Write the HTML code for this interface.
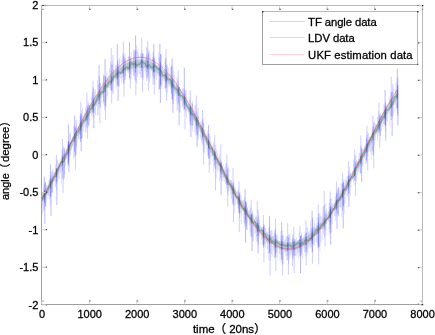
<!DOCTYPE html>
<html><head><meta charset="utf-8"><title>plot</title>
<style>html,body{margin:0;padding:0;background:#fff}svg{display:block}text{font-family:"Liberation Sans","Noto Sans CJK SC",sans-serif;font-size:11px;fill:#000;stroke:#000;stroke-width:.28px}.lg{font-size:11.3px}.al{font-size:11.5px}</style></head><body>
<svg width="435" height="335" viewBox="0 0 435 335">
<rect width="435" height="335" fill="#fff"/>
<path d="M41.8,192.7V192.7H42.2V192.3H43V186.5H43.8V183.9H44.6V181.3H45.4V183.1H46.2V185.5H46.9V201.8H46.2V206.3H45.4V204.4H44.6V209.9H43.8V210.9H43V214.4H42.2V206.1H41.8ZM47.5,185.1V185.1H48.3V180.5H49.1V178.7H49.9V175.1H50.7V171.8H51.5V175.8H52.4V168.9H53.2V172.8H53.4V184.1H53.2V192H52.4V192.4H51.5V196.3H50.7V205.4H49.9V199.3H49.1V196H48.3V199.4H47.5ZM54.2,171.9V171.9H55V164.5H55.8V167.9H56.6V160.3H57.4V159.4H58.2V163.3H59V162.8H59.6V179.3H59V177.7H58.2V181.8H57.4V181.1H56.6V190.4H55.8V186.5H55V182.2H54.2ZM60,161.8V161.8H60.8V155.5H61.6V149.4H62.4V148.6H63.2V145.9H64V150.1H64.8V150.5H65.6V148.2H65.8V165.9H65.6V167H64.8V174.8H64V180.4H63.2V178.8H62.4V178.4H61.6V183.9H60.8V172.8H60ZM66.1,148.9V148.9H67V144.2H67.8V141.1H68.6V140.7H69.4V133.8H70.2V132.2H71V138.8H71.7V150.3H71V155.2H70.2V156.5H69.4V160.3H68.6V156.9H67.8V163.9H67V159.2H66.1ZM72.4,135.8V135.8H73.2V126.5H74V124.9H74.8V128.2H75.7V126.9H76.5V125.2H77.3V127.5H77.6V142.6H77.3V147.5H76.5V146H75.7V156.4H74.8V157.5H74V158.5H73.2V146.5H72.4ZM78,125.9V125.9H78.8V121.9H79.6V115.5H80.5V118H81.3V110.2H82.1V107.5H82.9V114.8H83.7V115.9H83.7V128.5H83.7V131.7H82.9V138.1H82.1V138.3H81.3V141.5H80.5V134.9H79.6V139.1H78.8V139.5H78ZM84.3,112.6V112.6H85.1V107.1H85.9V109.2H86.7V105.3H87.5V101.6H88.3V102H89.1V105.3H89.9V104.8H90.1V116.3H89.9V120.5H89.1V127.5H88.3V124.9H87.5V122.6H86.7V131.9H85.9V133.2H85.1V127H84.3ZM90.2,102.8V102.8H91V97.3H91.8V92.6H92.6V95.5H93.4V88.4H94.2V91.4H95.1V89.3H95.9V96H96.2V105H95.9V114.9H95.1V113.1H94.2V118H93.4V114.2H92.6V118.4H91.8V116H91V113.1H90.2ZM96.2,94.9V94.9H97V80.2H97.8V84.1H98.6V75.9H99.4V77H100.2V83.2H101V86.1H101.6V103H101V107.9H100.2V106.6H99.4V108.3H98.6V115.1H97.8V115.5H97V106.1H96.2ZM102.4,82V82H103.2V74.1H104V75.3H104.9V77.5H105.7V76.5H106.5V71.7H107.3V77.3H108.1V96.1H107.3V98.6H106.5V107.8H105.7V102.8H104.9V110.3H104V104.6H103.2V97.3H102.4ZM108.4,74.7V74.7H109.2V68.6H110V61.8H110.8V70.9H111.7V61H112.5V64.8H113.3V69.5H114.1V68.6H114.1V82.9H114.1V82.2H113.3V91.3H112.5V89.9H111.7V91.1H110.8V89.8H110V88.4H109.2V88.1H108.4ZM115,65.6V65.6H115.8V64.6H116.6V66.1H117.4V61.5H118.2V64.1H119V57.5H119.8V59.5H120.3V78.6H119.8V86.9H119V86.4H118.2V85.2H117.4V85.9H116.6V88.8H115.8V81.9H115ZM120.5,64.7V64.7H121.3V58.7H122.1V53.6H122.9V54H123.7V58.3H124.5V52.9H125.3V59.9H126.1V79.8H125.3V80.3H124.5V84.4H123.7V77.3H122.9V78.1H122.1V82.7H121.3V78.7H120.5ZM126.8,60.6V60.6H127.6V56.6H128.4V55.8H129.2V57.1H130V56.2H130.8V52H131.6V58.6H132.2V71.4H131.6V79.7H130.8V74.2H130V80.6H129.2V72.6H128.4V73.5H127.6V71.6H126.8ZM132.8,56.3V56.3H133.6V49.3H134.4V52.3H135.2V50.5H136V45.1H136.9V51.4H137.7V48.5H138.5V54H138.8V69H138.5V74.8H137.7V77.1H136.9V83.4H136V81.7H135.2V80.1H134.4V77.3H133.6V72.8H132.8ZM139.3,56.6V56.6H140.1V54.5H140.9V53.1H141.7V50.2H142.5V53.2H143.3V54H144.1V56.8H144.5V71.7H144.1V80H143.3V77.3H142.5V77.3H141.7V78.8H140.9V77.4H140.1V73.7H139.3ZM145,57.2V57.2H145.8V54H146.6V55.8H147.4V51.7H148.2V49.8H149V50.9H149.8V54.3H150.6V61.6H150.7V70.3H150.6V78.3H149.8V82.6H149V74.7H148.2V76.6H147.4V71.7H146.6V77.3H145.8V71.6H145ZM151.3,60.2V60.2H152.1V57.6H152.9V57.8H153.7V55.7H154.5V58.5H155.3V62H156.1V64.4H156.7V79.8H156.1V75.8H155.3V84.4H154.5V78.4H153.7V77.9H152.9V76.3H152.1V70.6H151.3ZM157.5,65.7V65.7H158.3V52.2H159.2V57.2H160V54.3H160.8V54.1H161.6V64.6H162.4V65.1H162.8V84.1H162.4V87.2H161.6V86.5H160.8V84.4H160V89.5H159.2V90.4H158.3V76.4H157.5ZM163.7,69V69H164.5V58.8H165.3V62.2H166.1V68.9H166.9V64.6H167.7V66.7H168.5V74.8H168.7V85.4H168.5V86.6H167.7V93.6H166.9V84.7H166.1V92.1H165.3V88.8H164.5V81.6H163.7ZM169.4,72.4V72.4H170.2V66.9H171V66.8H171.8V75.1H172.6V67.7H173.4V71.2H174.2V75.3H174.8V96.1H174.2V103.9H173.4V103.4H172.6V99.9H171.8V93.2H171V89.7H170.2V86.9H169.4ZM175.8,82.2V82.2H176.6V76.9H177.4V79.6H178.2V81.2H179V86.9H179.8V87.2H180.6V89.3H181.2V101H180.6V113H179.8V112.2H179V102.1H178.2V109.6H177.4V111.2H176.6V100.4H175.8ZM181.9,88.4V88.4H182.7V88.2H183.5V88.5H184.3V90.1H185.1V90.8H185.9V89.5H186.7V96.4H187.2V110.6H186.7V117.7H185.9V112.6H185.1V109.7H184.3V110H183.5V107.2H182.7V107.3H181.9ZM188.1,103.9V103.9H188.9V97.4H189.7V100.1H190.5V104.9H191.3V102.5H192.1V100.5H192.9V108.7H193.6V125.2H192.9V131.4H192.1V125.7H191.3V120.4H190.5V126.5H189.7V121.6H188.9V112.5H188.1ZM193.7,111V111H194.5V105.5H195.3V104.5H196.1V111.4H196.9V114.3H197.7V115.9H198.5V116.7H199.2V132.3H198.5V136H197.7V134.5H196.9V134.7H196.1V135.6H195.3V132.5H194.5V121.2H193.7ZM200.2,121.2V121.2H201V122.2H201.8V119.4H202.6V118.6H203.4V122.1H204.2V129.3H205V132.1H205.3V142.9H205V153H204.2V152H203.4V146.1H202.6V143.9H201.8V142H201V139.1H200.2ZM205.7,135.8V135.8H206.5V133.3H207.3V130.4H208.1V133.9H208.9V133.9H209.7V135.9H210.6V141.2H211.4V157.4H210.6V164.7H209.7V158.5H208.9V155.7H208.1V156.3H207.3V151.8H206.5V145.5H205.7ZM211.8,145.6V145.6H212.6V144.2H213.4V142.7H214.2V149.6H215V145H215.8V148.5H216.6V151H217.4V153.5H217.9V172.5H217.4V169.5H216.6V178.4H215.8V168.7H215V168.5H214.2V172.7H213.4V161.6H212.6V156.8H211.8ZM218.4,156.9V156.9H219.2V153.2H220V159.4H220.8V161.1H221.6V162.6H222.4V164.7H223.2V164.4H223.5V178.2H223.2V181.4H222.4V177.6H221.6V179.9H220.8V178.1H220V181.3H219.2V170.6H218.4ZM224.3,167.2V167.2H225.2V164H226V162.6H226.8V167.4H227.6V165.3H228.4V167.8H229.2V175.7H229.4V191H229.2V190.8H228.4V194.4H227.6V192.2H226.8V187.9H226V184H225.2V181.7H224.3ZM230.2,180V180H231V180.3H231.9V182.1H232.7V183.4H233.5V181.5H234.3V186.7H235.1V188.8H235.7V204.9H235.1V213.5H234.3V205.8H233.5V201.5H232.7V204.7H231.9V199H231V194.5H230.2ZM236.6,191.7V191.7H237.4V190.7H238.2V189.8H239V191.8H239.8V192.3H240.7V195.8H241.5V201.1H242.1V216H241.5V224.2H240.7V213H239.8V218.3H239V209.6H238.2V208.1H237.4V204.3H236.6ZM242.6,199.5V199.5H243.4V200H244.2V197H245V201.4H245.8V200.7H246.6V206.5H247.5V208H248.1V222.5H247.5V230H246.6V225.8H245.8V219.5H245V227.5H244.2V222.1H243.4V211.8H242.6ZM248.9,210V210H249.7V205.3H250.5V208.1H251.4V213.4H252.2V210.7H253V214.4H253.8V218.5H254.4V236.1H253.8V241.2H253V241.6H252.2V237.5H251.4V232.6H250.5V235.6H249.7V225.7H248.9ZM254.9,216.6V216.6H255.7V215.5H256.5V216.8H257.3V220.1H258.1V215.8H258.9V218.9H259.7V221.7H259.9V234.4H259.7V236.5H258.9V235.5H258.1V236H257.3V236.8H256.5V241.4H255.7V233.1H254.9ZM261.1,227.3V227.3H261.9V227H262.7V227.5H263.5V223.5H264.3V224.7H265.1V227.9H266V230.7H266.6V242.9H266V247.7H265.1V244H264.3V245.8H263.5V245.1H262.7V244.4H261.9V239.9H261.1ZM266.9,232V232H267.7V231.6H268.5V227.8H269.3V226H270.1V230.7H270.9V230.3H271.7V230.3H272.5V236.4H272.6V250.2H272.5V256.7H271.7V254H270.9V260.4H270.1V251.6H269.3V260.5H268.5V253.6H267.7V249.6H266.9ZM272.9,235.6V235.6H273.7V231.1H274.5V228.7H275.3V228.6H276.1V236H276.9V233.9H277.7V237.7H278.2V250.5H277.7V257.4H276.9V252.4H276.1V253.9H275.3V251.2H274.5V258.4H273.7V249.6H272.9ZM278.9,241V241H279.7V235.7H280.5V230.9H281.4V239.1H282.2V230.2H283V235.5H283.8V241.1H284.6V239.9H284.7V253.8H284.6V252.8H283.8V264.2H283V264.8H282.2V262.9H281.4V254.9H280.5V261.5H279.7V253.7H278.9ZM284.8,239.6V239.6H285.6V236.8H286.4V235.5H287.3V236.3H288.1V233.9H288.9V234.7H289.7V232.9H290.5V242.4H290.9V257H290.5V254.8H289.7V258.6H288.9V263.9H288.1V259.9H287.3V260.7H286.4V256.2H285.6V252.6H284.8ZM291.1,242.2V242.2H291.9V234.3H292.7V234.7H293.5V238.1H294.3V238.8H295.1V239H296V237.3H296.7V256.5H296V255.9H295.1V256.2H294.3V259.7H293.5V256.4H292.7V258.8H291.9V254.6H291.1ZM297.1,240.1V240.1H297.9V240.1H298.7V232.7H299.5V238.2H300.3V235.6H301.1V232.1H301.9V237.6H302.8V239.7H303V248.7H302.8V258.6H301.9V252H301.1V256.3H300.3V252.7H299.5V252.7H298.7V258.2H297.9V253H297.1ZM303.3,236.3V236.3H304.1V234.4H304.9V233.5H305.8V232.7H306.6V227.8H307.4V226.8H308.2V231.8H309V232.9H309.2V245.1H309V247.6H308.2V253H307.4V254.4H306.6V248.9H305.8V256.6H304.9V252.3H304.1V248.6H303.3ZM309.3,230.6V230.6H310.1V221.6H310.9V228.2H311.7V227.4H312.5V219.6H313.3V226.6H314.1V223.3H314.9V227H315V240.6H314.9V245.4H314.1V245.5H313.3V244.2H312.5V252.1H311.7V247.4H310.9V246.3H310.1V247.5H309.3ZM315.6,224.8V224.8H316.4V217.6H317.2V222.7H318V213.8H318.8V213.5H319.6V212.6H320.4V216.2H321.3V217.3H321.3V236.2H321.3V242.4H320.4V251.4H319.6V247H318.8V248.3H318V245.5H317.2V242.7H316.4V242.1H315.6ZM321.6,215.2V215.2H322.4V206.3H323.2V205.6H324V205.3H324.8V203.2H325.6V211H326.4V207.8H327V223.7H326.4V235.7H325.6V230.3H324.8V237.6H324V234.2H323.2V239.9H322.4V230.1H321.6ZM327.9,211.5V211.5H328.7V203H329.5V207.3H330.3V204.8H331.1V199.1H331.9V203.1H332.7V204.6H332.9V215.1H332.7V224.1H331.9V232.8H331.1V225.2H330.3V229.1H329.5V234.9H328.7V221.7H327.9ZM333.9,203V203H334.8V196.6H335.6V194.2H336.4V190.7H337.2V188.9H338V187.8H338.8V189.3H339.6V207.1H338.8V215.1H338V213.8H337.2V214H336.4V216.5H335.6V221.2H334.8V215.7H333.9ZM339.8,190.8V190.8H340.6V183.5H341.4V183.1H342.2V183.9H343V181.9H343.8V184.7H344.6V179.4H345.5V181.9H345.6V198.7H345.5V203.8H344.6V213.9H343.8V205.2H343V204.3H342.2V217.1H341.4V206.9H340.6V208.6H339.8ZM345.8,179.7V179.7H346.6V176.6H347.5V175.9H348.3V171.8H349.1V166.8H349.9V172.4H350.7V173.3H351.3V187.7H350.7V196.3H349.9V193.3H349.1V189.8H348.3V195.9H347.5V197.3H346.6V191.7H345.8ZM352.2,171.1V171.1H353V160.2H353.8V160.5H354.6V155.8H355.4V155.1H356.2V160H357.1V161.1H357.8V175H357.1V181.6H356.2V177.6H355.4V179.7H354.6V185.1H353.8V181.5H353V179.2H352.2ZM358,158.7V158.7H358.8V153.1H359.6V153.1H360.4V145.4H361.2V146.8H362V148.6H362.9V149.1H363.5V165.6H362.9V165.2H362V166.9H361.2V173.6H360.4V173.1H359.6V169.4H358.8V172.2H358ZM364,146V146H364.9V144H365.7V139.4H366.5V135H367.3V131.4H368.1V133H368.9V137.1H369.7V137H370.1V148.3H369.7V151H368.9V152.1H368.1V156.6H367.3V161.1H366.5V160.3H365.7V164.6H364.9V158.1H364ZM370.1,136.6V136.6H370.9V133.8H371.7V128.6H372.5V126.6H373.3V121.8H374.1V121.2H374.9V123.5H375.7V123.5H376.2V136.2H375.7V140.5H374.9V145.5H374.1V154.8H373.3V150.8H372.5V151.5H371.7V159.3H370.9V152.2H370.1ZM376.2,124.5V124.5H377V117H377.8V111H378.6V116.3H379.4V115.4H380.2V113.5H381V114.8H381.8V114.8H382V124.5H381.8V130.9H381V135.9H380.2V130.4H379.4V132.3H378.6V136.3H377.8V141.6H377V133.8H376.2ZM382.4,113V113H383.3V104.3H384.1V106H384.9V102H385.7V105.3H386.5V104.2H387.3V104.6H387.8V121.9H387.3V121.6H386.5V120.2H385.7V131.6H384.9V123.5H384.1V124.3H383.3V127.3H382.4ZM388.7,98.5V98.5H389.5V96.6H390.3V92H391.1V92.4H392V84.6H392.8V83.5H393.6V88.4H394.1V113.4H393.6V115.9H392.8V117.6H392V116.2H391.1V116.1H390.3V126.6H389.5V113.7H388.7ZM394.8,89.1V89.1H395.6V82.9H396.4V79.4H397.2V87H398V79.7H398V85.3H398V80H398V111.8H398V104.8H398V111.4H398V113.4H397.2V107.7H396.4V111H395.6V105.6H394.8Z" fill="#0000ff" fill-opacity="0.15"/>
<path d="M45.5,182.2V206.9M52.1,171.3V193.1M56.4,154.8V183.6M62.5,138.8V171.1M63.1,153.4V192.9M64.4,147.7V178.4M68.3,141.8V166.1M75.4,127.3V169.5M76.2,120.2V155.1M80.8,101.7V138.9M80.7,113V141.9M86.9,92.5V127.6M87.6,106.5V138.7M88.8,104.5V125.5M93,80.7V111.7M93,87V112.9M99.9,82.9V123.1M105.5,76.1V120M103.6,76V102M111.2,48.1V90.4M111.7,64.5V103.6M113,55.1V94M117.9,59.5V85.8M123.4,41.5V83M124,56.4V96.5M125.2,58.1V76.5M130.4,59.1V88.5M135.9,50.5V95.6M134,50.3V75.7M141.7,37.8V71M142.5,53.6V92.2M147.7,41V78.7M148.5,53.3V90.6M146.7,47.3V81M154.3,58.6V94.5M153.1,52.2V84.7M160.8,54.2V84.9M166,49.4V87.7M166.6,65.3V100.7M165.8,57.4V88.2M171.7,65V93.6M178.2,70V104.5M185,93.4V129.5M190.3,90.1V124.5M192.3,103.6V125.7M196.4,95.3V129.4M198,107.8V139.4M202.5,110.2V139.8M203.4,123.1V164.8M209.2,141V172.9M214.7,135.2V165.1M215.5,151.6V190.3M220.8,144.4V173.9M226.9,154.6V184.8M227.8,169.6V206.6M233,167.9V204.1M233.5,183.4V222M239,181.2V212.6M239.3,193.1V232M239.3,194.4V213.8M246.5,202.5V229.5M251.2,199.7V236.9M257.3,201.5V241.8M258.3,209.7V245M263.4,215V247.8M263.9,226.6V262.3M263.8,225.5V244.8M270,234.3V275.4M275.6,218.3V256.6M275.9,234.2V271M275,233.1V258.1M282.4,235.1V275.5M287.7,222.8V255.5M288.4,237.5V274.6M293.8,227V255.3M294.2,240.5V273M292.6,238.7V265.9M299.9,226.2V256.5M301.4,234.7V255.3M306,220.4V251.7M306.3,232.4V265.4M312.4,228.6V263.6M312.3,217.7V252.2M318.2,204.7V247.6M318.7,222.7V264.4M318.6,217.4V246M324.2,190.8V229.5M325.1,213.4V246.4M330.3,191.5V222.8M330,198.7V232.8M336.4,181.4V210.6M338.3,187.1V216.2M342.5,173.1V210.8M343.7,179.4V206.9M348.6,161V193.5M354.7,149.2V180.4M355.5,162.4V195.9M360.8,135.6V173.9M366.9,125.9V152.9M367.7,140.2V170.4M366.5,137.5V163.1M372.9,115.5V154.9M373.7,125.9V168.3M379,102.1V132.6M379.8,117.7V148M380,113.7V135.3M385.3,103.2V125.3M391.2,76.6V120.1M397.9,77.1V115.9" fill="none" stroke="#0000ff" stroke-width="0.9" stroke-opacity="0.22"/>
<path d="M44.3,176.5V202.8M44.8,189.7V223.9M50.4,164.5V196.9M51,178.6V216M56.9,168.2V205M68.6,124.3V163.3M68.9,142V172M74.7,115.5V151.8M81.2,114.8V151.1M93.8,98.5V128.2M99.1,65.2V104M105.1,58.9V105.9M117.3,44.3V79.7M118.1,66.6V100.6M129.5,42V77.9M135.6,35.4V72.5M153.8,44.1V72.9M159.9,44.1V89M160.4,62.1V102.9M172.1,58.4V99.1M172.9,78.8V112.8M179.1,86.8V125.3M184.3,67.6V109.5M190.9,107V137.1M197.1,117.1V146.6M208.6,125V158.7M221.1,162.1V194.8M245.1,189.3V223.7M245.6,201.4V242.7M252,213.3V251M258.1,222.8V253.2M269.5,216.2V253.2M281.6,222.2V259.7M300.5,236V273.2M312.1,210.8V243.5M330.6,206.6V244.5M337,193.3V228.9M343.2,182.5V228.1M348.9,175.5V207M361.7,148.6V182.2M385.1,90V125.8M385.8,107.4V140.5M392.1,91.6V135.9M397.3,68.9V108.6M397.9,85V125.5" fill="none" stroke="#0000ff" stroke-width="0.9" stroke-opacity="0.3"/>
<path d="M41.8,195.5L42.3,193.7L42.8,193.8L43.2,193.4L43.7,192.2L44.2,191.4L44.7,189.7L45.1,189.8L45.6,188.7L46.1,187.9L46.6,187.1L47,186.8L47.5,186L48,184.3L48.5,184.3L48.9,183.2L49.4,181.2L49.9,181.3L50.4,180.8L50.8,178.8L51.3,178.1L51.8,178.4L52.3,177.4L52.7,175.3L53.2,174.1L53.7,172.8L54.2,171.9L54.6,172.6L55.1,170.8L55.6,170.2L56.1,168.9L56.5,169.1L57,167.9L57.5,167.2L58,166.4L58.4,165.1L58.9,164.3L59.4,163.4L59.9,161.8L60.3,161.5L60.8,159L61.3,159.6L61.8,157.3L62.2,157.1L62.7,156.3L63.2,155.4L63.7,154.3L64.1,154.1L64.6,153.9L65.1,153.2L65.6,152.4L66.1,151.3L66.5,148.6L67,148.3L67.5,146.8L68,146.2L68.4,146.1L68.9,144.5L69.4,144.8L69.9,143.7L70.3,143.2L70.8,142.2L71.3,141.2L71.8,140L72.2,137.8L72.7,136.8L73.2,136.7L73.7,136.3L74.1,133.8L74.6,133.1L75.1,132.5L75.6,131.9L76,131.1L76.5,129.7L77,129.5L77.5,128.3L77.9,128.4L78.4,126.7L78.9,126.9L79.4,126.4L79.8,124L80.3,124.4L80.8,122.4L81.3,121.5L81.7,120.2L82.2,118.9L82.7,119L83.2,118.3L83.6,116.4L84.1,115.6L84.6,114.4L85.1,113L85.5,114.4L86,114.2L86.5,113.4L87,112.6L87.4,110.7L87.9,110.8L88.4,110.3L88.9,108.6L89.3,106.2L89.8,105.6L90.3,105.5L90.8,104.3L91.3,104.2L91.7,102.7L92.2,102.9L92.7,101.2L93.2,99.9L93.6,99.9L94.1,98.6L94.6,97.9L95.1,97.6L95.5,98.1L96,97.4L96.5,96.1L97,94.6L97.4,94L97.9,93.8L98.4,92.9L98.9,92.1L99.3,91.6L99.8,89.8L100.3,89L100.8,89.9L101.2,88.7L101.7,87.4L102.2,86.7L102.7,86.6L103.1,86.8L103.6,86L104.1,84.9L104.6,85.7L105,84.1L105.5,83.9L106,83.8L106.5,80.6L106.9,79.7L107.4,79.5L107.9,79L108.4,80L108.8,78.2L109.3,78.8L109.8,78.3L110.3,77.5L110.7,76.8L111.2,76.4L111.7,75.8L112.2,74.4L112.6,74.1L113.1,73.2L113.6,72.8L114.1,71.7L114.6,71.5L115,71.1L115.5,70.2L116,71L116.5,69.9L116.9,69.9L117.4,69.4L117.9,70.3L118.4,68.9L118.8,69.3L119.3,68.2L119.8,67.1L120.3,67.9L120.7,66.8L121.2,66L121.7,67.1L122.2,65.8L122.6,66.1L123.1,66.3L123.6,65.1L124.1,63.9L124.5,64.5L125,63.5L125.5,64.1L126,62.6L126.4,62.4L126.9,62.9L127.4,63L127.9,62.2L128.3,62.3L128.8,62.2L129.3,62.1L129.8,61.8L130.2,60.5L130.7,60.2L131.2,61.6L131.7,60.1L132.1,61.5L132.6,60.5L133.1,60.3L133.6,60.8L134,60.2L134.5,60.3L135,60.8L135.5,60.3L135.9,60.4L136.4,61L136.9,59.2L137.4,60.1L137.9,59.4L138.3,58.8L138.8,60.1L139.3,59.8L139.8,60.6L140.2,60.1L140.7,60.1L141.2,58.9L141.7,60.2L142.1,59L142.6,61.1L143.1,60L143.6,60.3L144,59.9L144.5,60.3L145,59.4L145.5,60.2L145.9,60L146.4,60.2L146.9,59.7L147.4,59.7L147.8,60.5L148.3,61.1L148.8,60.5L149.3,60.2L149.7,61.4L150.2,60.9L150.7,62.3L151.2,61.5L151.6,61.3L152.1,62.4L152.6,63L153.1,63.9L153.5,63.9L154,62.4L154.5,63L155,63.9L155.4,63.3L155.9,64.5L156.4,65.1L156.9,65.1L157.3,65.1L157.8,65.8L158.3,66.3L158.8,67.1L159.2,66L159.7,66.9L160.2,68.2L160.7,67.6L161.2,68.7L161.6,69.2L162.1,70.1L162.6,70.4L163.1,70.1L163.5,70.5L164,70.3L164.5,71.6L165,72L165.4,72.6L165.9,73.4L166.4,74L166.9,74.6L167.3,73.3L167.8,73.5L168.3,74.9L168.8,75.2L169.2,76.9L169.7,77.6L170.2,78L170.7,77.8L171.1,79.2L171.6,79.9L172.1,79.9L172.6,80.7L173,80.3L173.5,81.4L174,81.4L174.5,83.3L174.9,83.9L175.4,84.9L175.9,85.4L176.4,86.2L176.8,84.8L177.3,85.9L177.8,85.9L178.3,86.9L178.7,87.9L179.2,87.8L179.7,88.4L180.2,89.5L180.6,90.2L181.1,90.7L181.6,91.6L182.1,92.3L182.5,93.3L183,95.3L183.5,95.3L184,96.1L184.4,96.4L184.9,97L185.4,96.8L185.9,98.5L186.4,100.3L186.8,100.5L187.3,101.3L187.8,103.1L188.3,103.8L188.7,104.1L189.2,105.3L189.7,105.5L190.2,105.9L190.6,106.9L191.1,108L191.6,108.9L192.1,108.9L192.5,111L193,111.8L193.5,111.2L194,112.5L194.4,112.7L194.9,113.1L195.4,114.5L195.9,115.7L196.3,117.4L196.8,118.1L197.3,118.6L197.8,120.1L198.2,120.4L198.7,120.4L199.2,122.3L199.7,122.9L200.1,123.7L200.6,125.3L201.1,125L201.6,125.4L202,127.3L202.5,128.1L203,129.5L203.5,130.5L203.9,130L204.4,132L204.9,132.4L205.4,133.9L205.8,135.3L206.3,135.6L206.8,136.5L207.3,136.6L207.7,138L208.2,138.8L208.7,139.2L209.2,142.2L209.7,142.4L210.1,143.1L210.6,144.4L211.1,144L211.6,145.1L212,146.9L212.5,147.2L213,147.2L213.5,149.1L213.9,149.7L214.4,150.1L214.9,152.4L215.4,153.1L215.8,154.7L216.3,155.8L216.8,155.6L217.3,157.3L217.7,157.7L218.2,158.2L218.7,159.3L219.2,159.3L219.6,160.7L220.1,161L220.6,164.1L221.1,164.4L221.5,164.6L222,166.4L222.5,167.1L223,167.9L223.4,168.8L223.9,170.2L224.4,169.4L224.9,170.7L225.3,171.1L225.8,172.3L226.3,173.9L226.8,175L227.2,175.7L227.7,176.4L228.2,178.4L228.7,178.1L229.1,178.8L229.6,180.1L230.1,180.5L230.6,180.7L231,181.6L231.5,182L232,184.3L232.5,185.7L233,186.8L233.4,187.5L233.9,187.5L234.4,188L234.9,188.3L235.3,189.3L235.8,190.5L236.3,190.6L236.8,192.2L237.2,192.5L237.7,195.2L238.2,195.4L238.7,197.4L239.1,197.9L239.6,197.8L240.1,199.4L240.6,199.2L241,200.7L241.5,199.4L242,201L242.5,200.9L242.9,202.9L243.4,203.6L243.9,204.3L244.4,205.7L244.8,206.2L245.3,206L245.8,208.2L246.3,208.1L246.7,209.5L247.2,208.1L247.7,210L248.2,210.5L248.6,210.2L249.1,212.9L249.6,214.3L250.1,214L250.5,215L251,214.4L251.5,215.2L252,214.8L252.4,215.3L252.9,216.5L253.4,218.6L253.9,218.9L254.3,218.5L254.8,219.5L255.3,220.9L255.8,221.3L256.3,221.1L256.7,223.2L257.2,224L257.7,224.6L258.2,225.7L258.6,225L259.1,224.6L259.6,225.7L260.1,225.3L260.5,225.5L261,227.1L261.5,226.9L262,228.4L262.4,229.6L262.9,228.9L263.4,229.4L263.9,230.1L264.3,231L264.8,232.6L265.3,232.8L265.8,233.1L266.2,232.6L266.7,233.1L267.2,233.4L267.7,234L268.1,234.3L268.6,235.4L269.1,235.8L269.6,236.6L270,235.9L270.5,235.4L271,235.8L271.5,237.4L271.9,236L272.4,236L272.9,237.1L273.4,237.4L273.8,239L274.3,239.2L274.8,238.7L275.3,240.3L275.7,238.8L276.2,239.7L276.7,239.7L277.2,240L277.6,239.9L278.1,239.8L278.6,241.4L279.1,241L279.6,240.5L280,241.7L280.5,241.3L281,241.2L281.5,241.8L281.9,242L282.4,241.3L282.9,241L283.4,242.3L283.8,242.1L284.3,242.1L284.8,242.9L285.3,243.1L285.7,243.4L286.2,243.4L286.7,242.6L287.2,242.7L287.6,241.4L288.1,242.8L288.6,242.6L289.1,242.7L289.5,241.8L290,243.1L290.5,241.8L291,242.7L291.4,242.4L291.9,243L292.4,242L292.9,241.1L293.3,242L293.8,241L294.3,240.3L294.8,241L295.2,241.2L295.7,241.4L296.2,241.1L296.7,242.3L297.1,241.6L297.6,240.9L298.1,240.8L298.6,240.2L299,240.1L299.5,240L300,238.5L300.5,240.4L300.9,239.5L301.4,238.9L301.9,239L302.4,239.8L302.8,238.7L303.3,237.9L303.8,238.4L304.3,237.7L304.8,238.2L305.2,236.8L305.7,236.5L306.2,236.9L306.7,237.1L307.1,237.4L307.6,236.2L308.1,235.1L308.6,234.7L309,235L309.5,234.1L310,233.2L310.5,233.9L310.9,232.5L311.4,233.3L311.9,232.8L312.4,231.7L312.8,231.9L313.3,230.4L313.8,229.4L314.3,228.7L314.7,227.8L315.2,227.6L315.7,227.9L316.2,227.8L316.6,227.3L317.1,225.7L317.6,226.4L318.1,225.5L318.5,225.4L319,224.3L319.5,224.2L320,222.9L320.4,222.4L320.9,223.2L321.4,222.5L321.9,221.7L322.3,219.9L322.8,220.7L323.3,219.7L323.8,219.5L324.2,218.4L324.7,217.8L325.2,217.5L325.7,216.1L326.1,214.9L326.6,214.4L327.1,214.9L327.6,212.8L328.1,213.6L328.5,212.4L329,210.8L329.5,209.5L330,209.7L330.4,208.6L330.9,208.7L331.4,207.7L331.9,207.1L332.3,206.5L332.8,205L333.3,205.1L333.8,203.9L334.2,203.4L334.7,202.5L335.2,200.9L335.7,201.7L336.1,200.1L336.6,200.9L337.1,199.2L337.6,198.7L338,197.4L338.5,196.6L339,195.7L339.5,195.2L339.9,193.6L340.4,194L340.9,193.1L341.4,192.1L341.8,191.6L342.3,189.9L342.8,189.8L343.3,188.3L343.7,188.8L344.2,187.2L344.7,185.9L345.2,185.7L345.6,185.6L346.1,181.5L346.6,181L347.1,180.8L347.5,180.4L348,180.8L348.5,179.6L349,179.1L349.4,178.1L349.9,175L350.4,174L350.9,173.7L351.4,172.9L351.8,173.6L352.3,171.6L352.8,171.7L353.3,169.7L353.7,169.6L354.2,169.4L354.7,168.6L355.2,167.8L355.6,164.4L356.1,163.7L356.6,162.3L357.1,162.7L357.5,161.4L358,160.8L358.5,159.6L359,159.6L359.4,158.1L359.9,158.2L360.4,157.1L360.9,154.9L361.3,154.1L361.8,152.6L362.3,152.7L362.8,151.6L363.2,150.2L363.7,149.3L364.2,147.9L364.7,148.3L365.1,147.3L365.6,146.3L366.1,145.8L366.6,145.4L367,143.7L367.5,143L368,141.5L368.5,139.7L368.9,139.4L369.4,139L369.9,137.7L370.4,136.1L370.8,136.2L371.3,136.4L371.8,135.8L372.3,134.5L372.7,131.9L373.2,130.6L373.7,129.8L374.2,129.1L374.6,128.4L375.1,127.9L375.6,125.8L376.1,125.5L376.6,124.7L377,124.8L377.5,123.7L378,122.5L378.5,121.5L378.9,119.8L379.4,119.1L379.9,119.2L380.4,116.9L380.8,116.2L381.3,116.1L381.8,115.3L382.3,115L382.7,113.8L383.2,113.5L383.7,111.2L384.2,112L384.6,111.5L385.1,109.4L385.6,108.5L386.1,108.2L386.5,107.5L387,106.5L387.5,105.3L388,105.2L388.4,103.9L388.9,102.7L389.4,102L389.9,102.2L390.3,101.1L390.8,99.5L391.3,99.7L391.8,99.5L392.2,98.8L392.7,97.9L393.2,97.3L393.7,97L394.1,96.1L394.6,96.1L395.1,95.2L395.6,93.3L396,92.1L396.5,92.9L397,92.1L397.5,90.1L397.9,89.5L397.9,96.7L397.5,97.6L397,98.6L396.5,100.4L396,100.5L395.6,101L395.1,102.6L394.6,102.9L394.1,104.4L393.7,105L393.2,105.6L392.7,106.4L392.2,106.2L391.8,107.2L391.3,108.1L390.8,107.8L390.3,108.2L389.9,110L389.4,110.6L388.9,110.7L388.4,111.4L388,113.3L387.5,113.5L387,114.5L386.5,115.1L386.1,116.3L385.6,117.3L385.1,117.7L384.6,118.2L384.2,120L383.7,119.4L383.2,121.4L382.7,121L382.3,122.3L381.8,123.1L381.3,124.3L380.8,124.8L380.4,126L379.9,126.7L379.4,128.2L378.9,128.6L378.5,129.9L378,131L377.5,131.4L377,132.6L376.6,133.5L376.1,133.3L375.6,134.2L375.1,134.6L374.6,136.7L374.2,137.4L373.7,138.6L373.2,139.5L372.7,139.8L372.3,141.3L371.8,143.7L371.3,143.1L370.8,145L370.4,144.2L369.9,145.7L369.4,145.9L368.9,147.2L368.5,148.7L368,148.5L367.5,149.8L367,151.9L366.6,152.3L366.1,154.2L365.6,155L365.1,155.7L364.7,156.2L364.2,156.7L363.7,157L363.2,157.8L362.8,159.1L362.3,159.3L361.8,161.6L361.3,162.4L360.9,163L360.4,164.2L359.9,165.2L359.4,167L359,166.9L358.5,168.3L358,168L357.5,169.7L357.1,170.6L356.6,171.5L356.1,171.1L355.6,173.1L355.2,175.1L354.7,176.4L354.2,176.8L353.7,177.4L353.3,177.5L352.8,179.2L352.3,179.7L351.8,181.4L351.4,180.1L350.9,181.9L350.4,182.6L349.9,184.2L349.4,186.3L349,186.5L348.5,186.8L348,188.7L347.5,187.4L347.1,188.7L346.6,189.6L346.1,189.7L345.6,193.7L345.2,193.9L344.7,195L344.2,195.3L343.7,196.5L343.3,196.6L342.8,198.2L342.3,198L341.8,199.3L341.4,199.4L340.9,200.7L340.4,201L339.9,202.6L339.5,203L339,203L338.5,204.2L338,205.9L337.6,207.4L337.1,207.6L336.6,209L336.1,208.8L335.7,209.5L335.2,209.9L334.7,210.3L334.2,211.3L333.8,212.4L333.3,212.4L332.8,212.9L332.3,214.1L331.9,215.5L331.4,216.6L330.9,216.8L330.4,216.6L330,218.1L329.5,217.4L329,218.9L328.5,220.4L328.1,220.2L327.6,220.7L327.1,222.7L326.6,222.6L326.1,224.1L325.7,224.3L325.2,224.3L324.7,225.3L324.2,226.7L323.8,227.2L323.3,228.1L322.8,227.5L322.3,229.1L321.9,228.8L321.4,229.1L320.9,229.7L320.4,230.4L320,231.1L319.5,232.7L319,232.9L318.5,234.2L318.1,233.3L317.6,234.8L317.1,234.1L316.6,235.4L316.2,235L315.7,236.3L315.2,236L314.7,236.1L314.3,237L313.8,236.8L313.3,239.3L312.8,239.7L312.4,239.9L311.9,240.4L311.4,241.1L310.9,241.6L310.5,240.7L310,241.8L309.5,241.6L309,242.1L308.6,243.7L308.1,244.1L307.6,244.4L307.1,244.5L306.7,245L306.2,245.2L305.7,244.9L305.2,245.1L304.8,246.3L304.3,246.7L303.8,245.5L303.3,245.9L302.8,246.5L302.4,247.7L301.9,246.3L301.4,247L300.9,246.6L300.5,247.2L300,247.8L299.5,247.6L299,247.7L298.6,247.2L298.1,248.7L297.6,249.4L297.1,249.7L296.7,249.8L296.2,249.5L295.7,249.8L295.2,250L294.8,250.2L294.3,249.4L293.8,248.5L293.3,249.1L292.9,250L292.4,250.8L291.9,251.3L291.4,250.3L291,250.5L290.5,250L290,250.6L289.5,250.3L289.1,250.2L288.6,249.8L288.1,249.9L287.6,249.6L287.2,250.6L286.7,250.9L286.2,251.3L285.7,250.3L285.3,250.9L284.8,249.4L284.3,249.8L283.8,249.7L283.4,249.1L282.9,250.1L282.4,249.9L281.9,248.8L281.5,249.5L281,249.7L280.5,249.8L280,248.8L279.6,249.1L279.1,248.7L278.6,248L278.1,248.3L277.6,248.2L277.2,247.8L276.7,247.6L276.2,248.2L275.7,247.9L275.3,248L274.8,247.9L274.3,247.1L273.8,246.9L273.4,244.5L272.9,244.4L272.4,243.9L271.9,243.6L271.5,245.3L271,245L270.5,243.1L270,243.3L269.6,243.2L269.1,244.1L268.6,243.3L268.1,242.1L267.7,242.7L267.2,242.5L266.7,242.1L266.2,241.7L265.8,239.9L265.3,240.5L264.8,239.5L264.3,238.7L263.9,237.9L263.4,238.1L262.9,237.5L262.4,236.4L262,235.6L261.5,235L261,234.5L260.5,234.3L260.1,234.6L259.6,232.8L259.1,232.4L258.6,232.9L258.2,232.8L257.7,232.8L257.2,232.3L256.7,231.2L256.3,228.9L255.8,228.9L255.3,228.2L254.8,228L254.3,227L253.9,226.6L253.4,226.1L252.9,226L252.4,224L252,222.8L251.5,222.8L251,222L250.5,222.4L250.1,222.5L249.6,220.8L249.1,220.7L248.6,218.4L248.2,217.4L247.7,217L247.2,217L246.7,216.4L246.3,215.8L245.8,215.2L245.3,214.4L244.8,214.6L244.4,213.5L243.9,212.8L243.4,211.3L242.9,210.5L242.5,209L242,208.3L241.5,207L241,207.9L240.6,207.6L240.1,205.9L239.6,206.5L239.1,204.7L238.7,205.5L238.2,203.7L237.7,203.4L237.2,200.5L236.8,199.4L236.3,199.2L235.8,197.6L235.3,196.8L234.9,195.9L234.4,195.7L233.9,194.3L233.4,194.8L233,193.8L232.5,193.5L232,192.8L231.5,190.3L231,189.9L230.6,189.5L230.1,187.2L229.6,187.5L229.1,186.9L228.7,186.8L228.2,185.3L227.7,184.6L227.2,183.9L226.8,182.6L226.3,182.4L225.8,179.6L225.3,179.9L224.9,178L224.4,177.8L223.9,178L223.4,177.4L223,175.5L222.5,175.6L222,174.6L221.5,173.1L221.1,171.8L220.6,171.9L220.1,168.6L219.6,167.9L219.2,166.8L218.7,166.1L218.2,166.2L217.7,165L217.3,164.3L216.8,164.6L216.3,163.7L215.8,162.4L215.4,161.8L214.9,159.6L214.4,158.4L213.9,158.3L213.5,156.6L213,155.9L212.5,155.5L212,155L211.6,153.8L211.1,152.8L210.6,153L210.1,150.7L209.7,150L209.2,149.8L208.7,147.3L208.2,146.6L207.7,146.6L207.3,145.3L206.8,144L206.3,143.9L205.8,142.2L205.4,141.1L204.9,141.2L204.4,140.3L203.9,138.8L203.5,138.1L203,136.4L202.5,136.7L202,134.5L201.6,134.5L201.1,132.9L200.6,132.1L200.1,131.4L199.7,131.3L199.2,129.3L198.7,129.3L198.2,127.7L197.8,127.7L197.3,126.4L196.8,124.9L196.3,124.5L195.9,124L195.4,123L194.9,121.9L194.4,121.1L194,119.2L193.5,119.9L193,119.2L192.5,118.2L192.1,116.8L191.6,117.6L191.1,116.7L190.6,115.5L190.2,114.2L189.7,112.8L189.2,112.5L188.7,112.6L188.3,110.3L187.8,110.9L187.3,110.4L186.8,108.2L186.4,107.8L185.9,106.7L185.4,105.6L184.9,105.3L184.4,103.4L184,104.6L183.5,104L183,101.8L182.5,101.3L182.1,101L181.6,100.7L181.1,99.2L180.6,98.3L180.2,98.2L179.7,97.3L179.2,95.4L178.7,95.6L178.3,95.7L177.8,95L177.3,93.9L176.8,92.6L176.4,93.7L175.9,94L175.4,93.3L174.9,92.2L174.5,90.9L174,90.3L173.5,90.2L173,89.6L172.6,89L172.1,88.2L171.6,87.3L171.1,87L170.7,86.1L170.2,85L169.7,84.7L169.2,84.6L168.8,83.4L168.3,83.2L167.8,82L167.3,80.8L166.9,82.5L166.4,81.8L165.9,82.1L165.4,80.3L165,79.7L164.5,78.9L164,79.1L163.5,78.6L163.1,78.6L162.6,77.4L162.1,77.5L161.6,78L161.2,76.4L160.7,77L160.2,76.5L159.7,75.6L159.2,73.9L158.8,74.3L158.3,73.6L157.8,74.1L157.3,72.5L156.9,73.5L156.4,73.3L155.9,71.9L155.4,71.4L155,72.5L154.5,72L154,71.6L153.5,71.4L153.1,70.7L152.6,71.6L152.1,71.1L151.6,70.2L151.2,70.3L150.7,69.1L150.2,69.5L149.7,69.4L149.3,68.7L148.8,68.5L148.3,68L147.8,67.9L147.4,69L146.9,67.5L146.4,67.5L145.9,68.3L145.5,68.1L145,68.3L144.5,67.6L144,68.3L143.6,68L143.1,68.8L142.6,67.9L142.1,67.5L141.7,66.8L141.2,67.1L140.7,67.5L140.2,67.9L139.8,67.4L139.3,67.7L138.8,67.3L138.3,66.7L137.9,67.1L137.4,67.3L136.9,68.1L136.4,68.7L135.9,68.2L135.5,68.2L135,68L134.5,68.6L134,67.5L133.6,67.9L133.1,68L132.6,68.9L132.1,68.6L131.7,68.5L131.2,69.5L130.7,69.4L130.2,68.8L129.8,68.4L129.3,68.7L128.8,70L128.3,70.2L127.9,70.5L127.4,70.3L126.9,71.1L126.4,70.2L126,70.7L125.5,70.4L125,71.4L124.5,71L124.1,72.1L123.6,72.5L123.1,73.8L122.6,73.4L122.2,73.6L121.7,74.6L121.2,74L120.7,74.4L120.3,74.9L119.8,75.1L119.3,77.2L118.8,76.6L118.4,77.6L117.9,77.7L117.4,77L116.9,78.2L116.5,77.4L116,78.4L115.5,78.1L115,78.6L114.6,80L114.1,79.6L113.6,81L113.1,82.1L112.6,81.3L112.2,83L111.7,83.9L111.2,84.1L110.7,84L110.3,85.7L109.8,85L109.3,85.5L108.8,86.7L108.4,87L107.9,87.8L107.4,87.4L106.9,87.7L106.5,88.4L106,91.7L105.5,92.3L105,92.7L104.6,93.2L104.1,92.4L103.6,93.9L103.1,94.2L102.7,94.3L102.2,94.7L101.7,95.7L101.2,97.4L100.8,98.2L100.3,97.7L99.8,98.6L99.3,98.2L98.9,99.7L98.4,101L97.9,101L97.4,102.2L97,102.8L96.5,104.4L96,104.6L95.5,104.8L95.1,106.4L94.6,105.5L94.1,106.2L93.6,107.6L93.2,108.2L92.7,109.2L92.2,110L91.7,110.3L91.3,111.1L90.8,113.1L90.3,113.8L89.8,113.7L89.3,114.9L88.9,116.5L88.4,116.9L87.9,118.3L87.4,118.4L87,120.1L86.5,120.9L86,121.3L85.5,121.7L85.1,121.7L84.6,122.9L84.1,123.5L83.6,124.8L83.2,125.4L82.7,126.8L82.2,127.2L81.7,128.3L81.3,129.4L80.8,130.7L80.3,131.9L79.8,133.1L79.4,134.1L78.9,135L78.4,135.5L77.9,136.8L77.5,136.1L77,136.1L76.5,137.4L76,139.4L75.6,138.9L75.1,140.8L74.6,141L74.1,141.6L73.7,143.1L73.2,143.8L72.7,146.1L72.2,146.6L71.8,147.9L71.3,148.4L70.8,149.8L70.3,151.3L69.9,150.7L69.4,152L68.9,153.2L68.4,154.5L68,154.6L67.5,155.6L67,156.2L66.5,156.6L66.1,159.3L65.6,159.7L65.1,160.6L64.6,162.3L64.1,161.9L63.7,162.9L63.2,163.2L62.7,163.3L62.2,165.7L61.8,166.2L61.3,167.5L60.8,167.1L60.3,168.6L59.9,169.8L59.4,170.8L58.9,172.4L58.4,172.6L58,173.9L57.5,175.1L57,175.8L56.5,176.1L56.1,177.3L55.6,177.6L55.1,179.9L54.6,180.3L54.2,181L53.7,181.7L53.2,182.3L52.7,184.7L52.3,184.6L51.8,186.2L51.3,187.4L50.8,186.6L50.4,187.6L49.9,189.6L49.4,189.7L48.9,191.8L48.5,192.5L48,193.6L47.5,194.5L47,193.1L46.6,194.7L46.1,195.7L45.6,196.4L45.1,197.7L44.7,197.6L44.2,198.3L43.7,199.7L43.2,200.9L42.8,201L42.3,201.6L41.8,202.7Z" fill="#50786a" fill-opacity="0.24"/>
<path d="M41.8,200.5L42.5,198.7L43.1,196.9L43.8,195.6L44.5,195.4L45.1,194.9L45.8,194.2L46.5,193.3L47.1,191.6L47.8,189.4L48.5,187.3L49.1,186.8L49.8,186.4L50.5,184.4L51.1,182.8L51.8,181.9L52.5,180.9L53.1,179.4L53.8,177.3L54.4,176.6L55.1,176.2L55.8,176L56.4,173.8L57.1,171.5L57.8,170.4L58.4,168.8L59.1,166.7L59.8,165.1L60.4,164L61.1,162.5L61.8,161.9L62.4,162.3L63.1,162.3L63.8,161.2L64.4,158.7L65.1,156.5L65.8,155.4L66.4,154.7L67.1,153.3L67.8,152.3L68.4,151.4L69.1,148.9L69.8,146.1L70.4,143.9L71.1,143.1L71.8,141.6L72.4,141.2L73.1,140.2L73.8,139.3L74.4,137.7L75.1,137.3L75.8,136.3L76.4,133.8L77.1,132.1L77.7,131.7L78.4,131.6L79.1,129.8L79.7,128.2L80.4,127.2L81.1,125.8L81.7,125L82.4,123.2L83.1,121.6L83.7,120.2L84.4,121L85.1,120.3L85.7,117.8L86.4,116.4L87.1,115.9L87.7,115.5L88.4,114.1L89.1,112.6L89.7,109.9L90.4,108.6L91.1,108.5L91.7,107.4L92.4,105.4L93.1,104.5L93.7,105.4L94.4,104.9L95.1,103.5L95.7,101.9L96.4,101L97.1,98.8L97.7,96.5L98.4,94.8L99.1,95.5L99.7,94.9L100.4,94L101,91.9L101.7,92L102.4,92.1L103,92.5L103.7,90.2L104.4,87.3L105,85.2L105.7,85.4L106.4,86.6L107,85.5L107.7,84.4L108.4,82.6L109,82.3L109.7,81.5L110.4,81.5L111,81.5L111.7,81.4L112.4,79.8L113,77.9L113.7,76.4L114.4,76.6L115,76.1L115.7,75.2L116.4,73.7L117,73.4L117.7,73.6L118.4,72.3L119,72.1L119.7,72.3L120.4,73.1L121,72.7L121.7,72.8L122.3,71.2L123,69.6L123.7,68.4L124.3,68.8L125,68.7L125.7,68.4L126.3,67L127,67L127.7,67.6L128.3,68.5L129,67.5L129.7,66.4L130.3,65.2L131,63.8L131.7,62.6L132.3,63.2L133,64.5L133.7,65L134.3,63.7L135,63.2L135.7,63.9L136.3,65.4L137,65.7L137.7,64.6L138.3,64.2L139,64.2L139.7,64.4L140.3,63L141,62.2L141.7,61.3L142.3,62L143,62.7L143.7,62.8L144.3,62.8L145,63.2L145.6,65L146.3,66L147,66.6L147.6,66.3L148.3,66L149,65L149.6,65L150.3,66.5L151,67.5L151.6,67.1L152.3,67.6L153,67.8L153.6,66.6L154.3,65.5L155,66L155.6,66.7L156.3,66.7L157,68.2L157.6,69L158.3,69.5L159,68.6L159.6,69L160.3,69.9L161,71.2L161.6,72.8L162.3,74L163,75.5L163.6,75.9L164.3,75.5L165,75.5L165.6,75.5L166.3,77.1L167,77.6L167.6,79.2L168.3,79.4L168.9,79.6L169.6,79L170.3,79.5L170.9,81.6L171.6,83.1L172.3,84.4L172.9,84.8L173.6,86.5L174.3,87.3L174.9,87.7L175.6,88.5L176.3,89.5L176.9,89.6L177.6,89.6L178.3,91.2L178.9,93.6L179.6,94.7L180.3,95.4L180.9,95.5L181.6,95.7L182.3,96.1L182.9,97L183.6,97.9L184.3,98.9L184.9,100.9L185.6,102.7L186.3,104.2L186.9,105.7L187.6,106.9L188.3,108.1L188.9,108.3L189.6,109.3L190.3,110.6L190.9,112.5L191.6,113.4L192.2,114.2L192.9,114.5L193.6,114.5L194.2,115.9L194.9,118.1L195.6,119.8L196.2,119.8L196.9,120.4L197.6,121.4L198.2,123.2L198.9,125.4L199.6,126.5L200.2,126.9L200.9,128L201.6,130.8L202.2,132.3L202.9,133.5L203.6,134.1L204.2,135.7L204.9,136.3L205.6,137.2L206.2,139L206.9,141.1L207.6,142.5L208.2,143.6L208.9,145.4L209.6,147.7L210.2,148.3L210.9,148.5L211.6,148.1L212.2,149.6L212.9,152.7L213.6,154.6L214.2,154.1L214.9,155.3L215.5,157.4L216.2,158.9L216.9,159.2L217.5,160.5L218.2,162.3L218.9,163.2L219.5,164.8L220.2,165.3L220.9,166L221.5,166.1L222.2,168.5L222.9,170L223.5,172.1L224.2,173.6L224.9,175.6L225.5,177L226.2,177.5L226.9,178.8L227.5,179.9L228.2,182.7L228.9,184L229.5,184.4L230.2,184.2L230.9,185.3L231.5,187.1L232.2,189L232.9,190L233.5,190.4L234.2,191.7L234.9,194.1L235.5,196.3L236.2,197.4L236.9,197.5L237.5,197.3L238.2,197.5L238.8,199.3L239.5,200.4L240.2,202.1L240.8,204.2L241.5,206.5L242.2,207.9L242.8,208.9L243.5,208.6L244.2,209L244.8,209.9L245.5,211L246.2,210.6L246.8,212L247.5,213.8L248.2,215.5L248.8,216.5L249.5,218L250.2,218.2L250.8,218.7L251.5,219.5L252.2,220.8L252.8,222.3L253.5,222.9L254.2,222.4L254.8,221.7L255.5,223.4L256.2,225.3L256.8,226.4L257.5,226L258.2,226.5L258.8,228.3L259.5,230.1L260.1,230.6L260.8,230.6L261.5,230.4L262.1,230.9L262.8,231.5L263.5,232.8L264.1,234L264.8,234.4L265.5,235.1L266.1,236.4L266.8,237.7L267.5,238.4L268.1,239.5L268.8,240L269.5,239.3L270.1,238.2L270.8,239.3L271.5,241.4L272.1,242.4L272.8,241L273.5,241.2L274.1,242.8L274.8,243.5L275.5,242.6L276.1,241.9L276.8,242.1L277.5,242L278.1,243.2L278.8,243.7L279.5,244.4L280.1,244.5L280.8,244.9L281.5,244.4L282.1,244.2L282.8,244.5L283.4,245.4L284.1,245.2L284.8,245.7L285.4,245.7L286.1,246.1L286.8,245.9L287.4,245.5L288.1,245.1L288.8,245.1L289.4,245.5L290.1,245.4L290.8,245.8L291.4,246.8L292.1,246.9L292.8,247L293.4,246.2L294.1,245.3L294.8,244.3L295.4,245.1L296.1,244.7L296.8,243.9L297.4,242.8L298.1,243L298.8,243.2L299.4,244.1L300.1,245L300.8,244.2L301.4,242.9L302.1,242.5L302.8,243.6L303.4,243.4L304.1,242.1L304.8,240.6L305.4,240.1L306.1,240.5L306.7,240.3L307.4,240.3L308.1,240.2L308.7,240.3L309.4,238.8L310.1,238.4L310.7,238.6L311.4,237.7L312.1,236L312.7,235L313.4,234.8L314.1,234.6L314.7,233.1L315.4,231.1L316.1,229.5L316.7,230.7L317.4,230.7L318.1,229.3L318.7,228L319.4,228.5L320.1,228L320.7,226.3L321.4,225.1L322.1,225.2L322.7,223.9L323.4,223.2L324.1,222.9L324.7,222.7L325.4,220.7L326.1,219.9L326.7,218.9L327.4,218.7L328.1,217.5L328.7,217.3L329.4,216.1L330,214.6L330.7,213.2L331.4,212.9L332,211.5L332.7,209.5L333.4,209L334,209.2L334.7,208.2L335.4,205.8L336,203.5L336.7,201.5L337.4,200.7L338,200.2L338.7,200.5L339.4,199.8L340,198.6L340.7,197.2L341.4,196.3L342,195.2L342.7,192.9L343.4,191.2L344,189.3L344.7,189.7L345.4,190L346,189.9L346.7,188.5L347.4,186.3L348,183.9L348.7,181.3L349.4,180.8L350,180.3L350.7,179.3L351.4,177.3L352,177L352.7,177.1L353.3,176.6L354,174.9L354.7,173.3L355.3,170.4L356,168L356.7,167L357.3,166.6L358,165.2L358.7,162.7L359.3,162.1L360,161.5L360.7,160.8L361.3,158.8L362,157.9L362.7,156.2L363.3,155.1L364,153.7L364.7,152.7L365.3,150.8L366,149.8L366.7,148.3L367.3,146.6L368,144.8L368.7,143.4L369.3,141.3L370,140.3L370.7,139.9L371.3,138.7L372,136.2L372.7,134.1L373.3,134.2L374,133.5L374.6,132.2L375.3,130.5L376,130.8L376.6,130.8L377.3,128.9L378,126.9L378.6,125.4L379.3,124.9L380,123.6L380.6,122.5L381.3,121.6L382,119.5L382.6,117.7L383.3,116.8L384,117.1L384.6,115.4L385.3,112.9L386,110.7L386.6,109.9L387.3,109.8L388,110L388.6,109.4L389.3,108.6L390,107.6L390.6,106.4L391.3,105.3L392,104.6L392.6,103.9L393.3,102.4L394,99.7L394.6,96.8L395.3,96.3L396,96.5L396.6,97L397.3,95.3L397.9,94.1" fill="none" stroke="#24603c" stroke-width="1.6" stroke-opacity="0.32" stroke-linejoin="round"/>
<path d="M44.3,190.9V199.6M50.4,180.1V188.7M56.4,168.7V177.3M62.5,157V165.6M68.6,145.3V153.9M74.7,133.6V142.2M80.8,122.2V130.8M86.9,111.3V119.9M93,101.1V109.7M99.1,91.6V100.2M105.1,83.2V91.8M111.2,75.8V84.4M117.3,69.7V78.3M123.4,65V73.6M129.5,61.6V70.2M135.6,59.8V68.4M141.7,59.4V68M147.7,60.6V69.2M153.8,63.2V71.8M159.9,67.3V75.9M166,72.7V81.4M172.1,79.5V88.1M178.2,87.4V96M184.3,96.4V105M190.3,106.3V114.9M196.4,116.9V125.5M202.5,128.1V136.7M208.6,139.6V148.3M214.7,151.4V160M220.8,163.1V171.7M226.9,174.6V183.3M233,185.8V194.4M239,196.3V205M245.1,206.2V214.8M251.2,215.1V223.7M257.3,222.9V231.5M263.4,229.5V238.2M269.5,234.9V243.5M275.6,238.9V247.5M281.6,241.4V250M287.7,242.4V251M293.8,241.9V250.5M299.9,239.9V248.5M306,236.4V245M312.1,231.6V240.2M318.2,225.3V234M324.2,217.9V226.5M330.3,209.4V218M336.4,199.8V208.5M342.5,189.5V198.1M348.6,178.6V187.2M354.7,167.2V175.8M360.8,155.5V164.1M366.9,143.7V152.3M372.9,132.1V140.7M379,120.7V129.4M385.1,109.9V118.5M391.2,99.8V108.4M397.3,90.4V99.1" fill="none" stroke="#0a5a3c" stroke-width="1" stroke-opacity="0.38"/>
<path d="M41.8,199.5L43,197.4L44.2,195.3L45.4,193.1L46.6,190.9L47.7,188.7L48.9,186.4L50.1,184.1L51.3,181.9L52.5,179.6L53.7,177.2L54.9,174.9L56.1,172.5L57.3,170.2L58.4,167.8L59.6,165.4L60.8,163L62,160.6L63.2,158.2L64.4,155.8L65.6,153.4L66.8,151L68,148.6L69.1,146.2L70.3,143.8L71.5,141.4L72.7,139L73.9,136.6L75.1,134.3L76.3,131.9L77.5,129.6L78.7,127.3L79.8,124.9L81,122.7L82.2,120.4L83.4,118.1L84.6,115.9L85.8,113.7L87,111.5L88.2,109.4L89.3,107.2L90.5,105.1L91.7,103.1L92.9,101L94.1,99L95.3,97L96.5,95.1L97.7,93.2L98.9,91.4L100,89.5L101.2,87.8L102.4,86L103.6,84.3L104.8,82.7L106,81L107.2,79.5L108.4,78L109.6,76.5L110.7,75.1L111.9,73.7L113.1,72.4L114.3,71.1L115.5,69.9L116.7,68.7L117.9,67.6L119.1,66.5L120.3,65.5L121.4,64.6L122.6,63.7L123.8,62.8L125,62.1L126.2,61.3L127.4,60.7L128.6,60.1L129.8,59.5L131,59L132.1,58.6L133.3,58.2L134.5,57.9L135.7,57.7L136.9,57.5L138.1,57.3L139.3,57.3L140.5,57.3L141.7,57.3L142.8,57.4L144,57.6L145.2,57.8L146.4,58.1L147.6,58.5L148.8,58.9L150,59.3L151.2,59.9L152.4,60.5L153.5,61.1L154.7,61.8L155.9,62.6L157.1,63.4L158.3,64.3L159.5,65.2L160.7,66.2L161.9,67.2L163.1,68.3L164.2,69.5L165.4,70.7L166.6,71.9L167.8,73.2L169,74.6L170.2,76L171.4,77.5L172.6,79L173.8,80.5L174.9,82.1L176.1,83.7L177.3,85.4L178.5,87.2L179.7,88.9L180.9,90.7L182.1,92.6L183.3,94.5L184.4,96.4L185.6,98.3L186.8,100.3L188,102.4L189.2,104.4L190.4,106.5L191.6,108.6L192.8,110.8L194,112.9L195.1,115.1L196.3,117.4L197.5,119.6L198.7,121.9L199.9,124.2L201.1,126.5L202.3,128.8L203.5,131.1L204.7,133.5L205.8,135.8L207,138.2L208.2,140.6L209.4,143L210.6,145.4L211.8,147.8L213,150.2L214.2,152.6L215.4,155L216.5,157.4L217.7,159.8L218.9,162.2L220.1,164.6L221.3,167L222.5,169.4L223.7,171.7L224.9,174.1L226.1,176.4L227.2,178.8L228.4,181.1L229.6,183.4L230.8,185.6L232,187.9L233.2,190.1L234.4,192.3L235.6,194.5L236.8,196.7L237.9,198.8L239.1,200.9L240.3,203L241.5,205L242.7,207L243.9,209L245.1,210.9L246.3,212.9L247.5,214.7L248.6,216.5L249.8,218.3L251,220.1L252.2,221.8L253.4,223.4L254.6,225L255.8,226.6L257,228.1L258.2,229.6L259.3,231L260.5,232.4L261.7,233.7L262.9,235L264.1,236.3L265.3,237.4L266.5,238.5L267.7,239.6L268.9,240.6L270,241.6L271.2,242.5L272.4,243.3L273.6,244.1L274.8,244.8L276,245.5L277.2,246.1L278.4,246.7L279.6,247.2L280.7,247.6L281.9,248L283.1,248.3L284.3,248.6L285.5,248.8L286.7,248.9L287.9,249L289.1,249L290.2,249L291.4,248.8L292.6,248.7L293.8,248.5L295,248.2L296.2,247.8L297.4,247.4L298.6,247L299.8,246.4L300.9,245.9L302.1,245.2L303.3,244.5L304.5,243.8L305.7,242.9L306.9,242.1L308.1,241.1L309.3,240.2L310.5,239.1L311.6,238L312.8,236.9L314,235.7L315.2,234.4L316.4,233.1L317.6,231.8L318.8,230.4L320,228.9L321.2,227.4L322.3,225.9L323.5,224.3L324.7,222.7L325.9,221L327.1,219.3L328.3,217.5L329.5,215.7L330.7,213.9L331.9,212L333,210.1L334.2,208.1L335.4,206.1L336.6,204.1L337.8,202L339,200L340.2,197.8L341.4,195.7L342.6,193.5L343.7,191.3L344.9,189.1L346.1,186.9L347.3,184.6L348.5,182.3L349.7,180L350.9,177.7L352.1,175.4L353.3,173L354.4,170.7L355.6,168.3L356.8,165.9L358,163.5L359.2,161.1L360.4,158.7L361.6,156.3L362.8,153.9L364,151.5L365.1,149.1L366.3,146.7L367.5,144.3L368.7,141.9L369.9,139.5L371.1,137.1L372.3,134.8L373.5,132.4L374.6,130.1L375.8,127.7L377,125.4L378.2,123.1L379.4,120.8L380.6,118.6L381.8,116.3L383,114.1L384.2,111.9L385.3,109.8L386.5,107.7L387.7,105.5L388.9,103.5L390.1,101.4L391.3,99.4L392.5,97.4L393.7,95.5L394.9,93.6L396,91.7L397.2,89.9" fill="none" stroke="#ff0000" stroke-width="1" stroke-opacity="0.33" stroke-linejoin="round"/>
<path d="M41.5,5V305M41,304.5H423" stroke="#a0a0a0" fill="none"/>
<path d="M41,5.5H423M422.5,5V305" stroke="#bababa" fill="none"/>
<path d="M41.80,304v-3.5M41.80,6v3M42,5.20h4M422,5.20h-3.5M89.35,304v-3.5M89.35,6v3M42,42.65h4M422,42.65h-3.5M136.90,304v-3.5M136.90,6v3M42,80.10h4M422,80.10h-3.5M184.45,304v-3.5M184.45,6v3M42,117.55h4M422,117.55h-3.5M232.00,304v-3.5M232.00,6v3M42,155.00h4M422,155.00h-3.5M279.55,304v-3.5M279.55,6v3M42,192.45h4M422,192.45h-3.5M327.10,304v-3.5M327.10,6v3M42,229.90h4M422,229.90h-3.5M374.65,304v-3.5M374.65,6v3M42,267.35h4M422,267.35h-3.5M422.20,304v-3.5M422.20,6v3M42,304.80h4M422,304.80h-3.5" stroke="#d0d0d0" stroke-width="1" fill="none"/>
<rect x="88.95" y="299.9" width="1.7" height="1.9" fill="#a8a8a8"/><rect x="89.05" y="8.7" width="1.6" height="1.1" fill="#484848"/><rect x="45.7" y="41.90" width="1.4" height="1" fill="#222"/><rect x="417.8" y="42.35" width="1.6" height="1.2" fill="#585858"/><rect x="136.50" y="299.9" width="1.7" height="1.9" fill="#a8a8a8"/><rect x="136.60" y="8.7" width="1.6" height="1.1" fill="#484848"/><rect x="45.7" y="79.35" width="1.4" height="1" fill="#222"/><rect x="417.8" y="79.80" width="1.6" height="1.2" fill="#585858"/><rect x="184.05" y="299.9" width="1.7" height="1.9" fill="#a8a8a8"/><rect x="184.15" y="8.7" width="1.6" height="1.1" fill="#484848"/><rect x="45.7" y="116.80" width="1.4" height="1" fill="#222"/><rect x="417.8" y="117.25" width="1.6" height="1.2" fill="#585858"/><rect x="231.60" y="299.9" width="1.7" height="1.9" fill="#a8a8a8"/><rect x="231.70" y="8.7" width="1.6" height="1.1" fill="#484848"/><rect x="45.7" y="154.25" width="1.4" height="1" fill="#222"/><rect x="417.8" y="154.70" width="1.6" height="1.2" fill="#585858"/><rect x="279.15" y="299.9" width="1.7" height="1.9" fill="#a8a8a8"/><rect x="279.25" y="8.7" width="1.6" height="1.1" fill="#484848"/><rect x="45.7" y="191.70" width="1.4" height="1" fill="#222"/><rect x="417.8" y="192.15" width="1.6" height="1.2" fill="#585858"/><rect x="326.70" y="299.9" width="1.7" height="1.9" fill="#a8a8a8"/><rect x="326.80" y="8.7" width="1.6" height="1.1" fill="#484848"/><rect x="45.7" y="229.15" width="1.4" height="1" fill="#222"/><rect x="417.8" y="229.60" width="1.6" height="1.2" fill="#585858"/><rect x="374.25" y="299.9" width="1.7" height="1.9" fill="#a8a8a8"/><rect x="374.35" y="8.7" width="1.6" height="1.1" fill="#484848"/><rect x="45.7" y="266.60" width="1.4" height="1" fill="#222"/><rect x="417.8" y="267.05" width="1.6" height="1.2" fill="#585858"/>
<rect x="422" y="5" width="1.4" height="1.2" fill="#222"/><rect x="417.2" y="5" width="1.6" height="0.9" fill="#666"/><rect x="422" y="8.6" width="1.2" height="1" fill="#666"/>
<rect x="42" y="5" width="2" height="1" fill="#444"/><rect x="44.5" y="5.2" width="1.5" height="0.8" fill="#888"/><rect x="41.8" y="8.8" width="2.4" height="0.9" fill="#999"/>
<rect x="421.6" y="304" width="1.6" height="1.3" fill="#333"/><rect x="420.6" y="300.5" width="1.2" height="1.4" fill="#999"/><rect x="417.5" y="303.6" width="1.6" height="1" fill="#777"/>
<rect x="42.3" y="300.4" width="1.5" height="1.4" fill="#aaa"/><rect x="45.6" y="304.6" width="1.4" height="1" fill="#888"/>
<text x="42.1" y="318" text-anchor="middle">0</text>
<text x="89.7" y="318" text-anchor="middle">1000</text>
<text x="137.2" y="318" text-anchor="middle">2000</text>
<text x="184.8" y="318" text-anchor="middle">3000</text>
<text x="232.3" y="318" text-anchor="middle">4000</text>
<text x="279.9" y="318" text-anchor="middle">5000</text>
<text x="327.4" y="318" text-anchor="middle">6000</text>
<text x="375.0" y="318" text-anchor="middle">7000</text>
<text x="422.6" y="318" text-anchor="middle">8000</text>
<text x="38.4" y="8.5" text-anchor="end">2</text>
<text x="38.4" y="46.0" text-anchor="end">1.5</text>
<text x="38.4" y="83.5" text-anchor="end">1</text>
<text x="38.4" y="121.0" text-anchor="end">0.5</text>
<text x="38.4" y="158.5" text-anchor="end">0</text>
<text x="38.4" y="196.0" text-anchor="end">-0.5</text>
<text x="38.4" y="233.5" text-anchor="end">-1</text>
<text x="38.4" y="271.0" text-anchor="end">-1.5</text>
<text x="38.4" y="308.5" text-anchor="end">-2</text>
<text class="al" y="333.3"><tspan x="192.9">time</tspan><tspan x="214.6">（</tspan><tspan x="229.2">20ns</tspan><tspan x="254.2">）</tspan></text>
<g transform="translate(9.2,200) rotate(-90)"><text y="0"><tspan x="0">angle</tspan><tspan x="25.8">（</tspan><tspan x="38" font-size="11.35">degree</tspan><tspan x="73.5">）</tspan></text></g>
<rect x="262.5" y="11.5" width="155" height="53" fill="#fff"/>
<path d="M262.5,11V65M262,64.5H418" stroke="#a0a0a0" fill="none"/>
<path d="M262,11.5H418M417.5,11V65" stroke="#bababa" fill="none"/>
<rect x="262" y="11" width="1.5" height="1.4" fill="#333"/><rect x="417" y="11" width="1.6" height="1.4" fill="#333"/><rect x="417" y="63.8" width="1.4" height="1.2" fill="#555"/>
<path d="M269.5,21.5H304.5" stroke="#0000ff" stroke-opacity="0.17" stroke-width="1"/>
<text class="lg" x="308.1" y="26.2" textLength="68.6">TF angle data</text>
<path d="M269.5,37.5H304.5" stroke="#1a6a3a" stroke-opacity="0.19" stroke-width="1"/>
<text class="lg" x="308.1" y="42.2" textLength="46.6">LDV data</text>
<path d="M269.5,54.5H304.5" stroke="#ff0000" stroke-opacity="0.17" stroke-width="1"/>
<text class="lg" x="308.1" y="59.2" textLength="104.5">UKF estimation data</text>
</svg></body></html>
